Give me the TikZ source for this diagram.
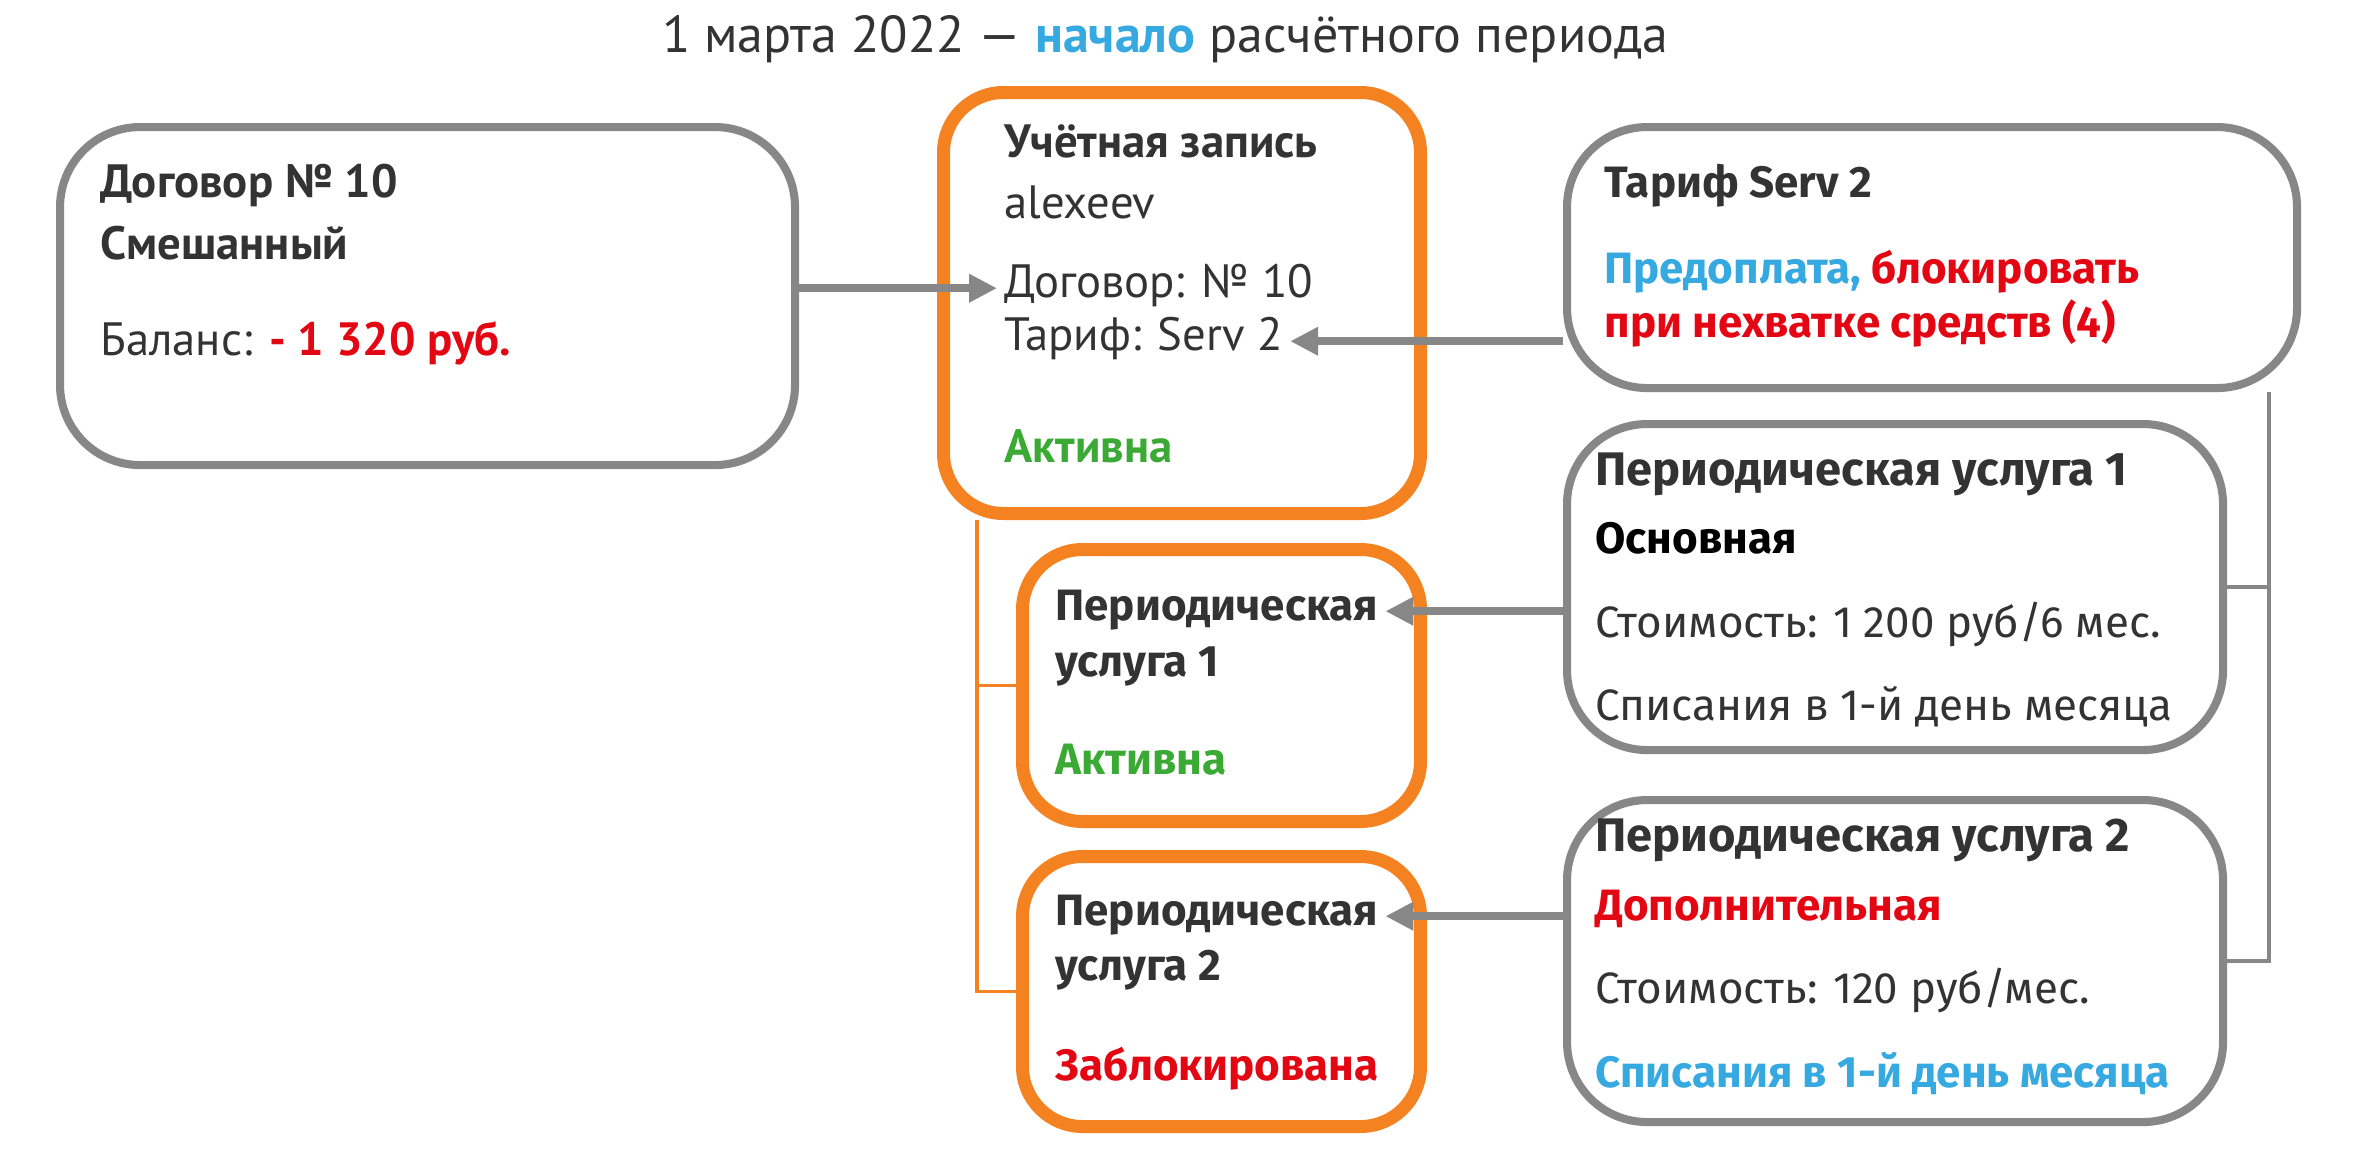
\documentclass[tikz,border=0pt]{standalone}
\usepackage{fontspec}
\setmainfont{PT Sans}
\newfontfamily\widefont{Fira Sans}
\usetikzlibrary{arrows.meta}

\definecolor{lgray}{HTML}{878787}
\definecolor{dgray}{HTML}{333333}
\definecolor{orng}{HTML}{F58220}
\definecolor{rd}{HTML}{E30613}
\definecolor{grn}{HTML}{3AAA35}
\definecolor{blu}{HTML}{36A9E1}

\begin{document}
\begin{tikzpicture}[line width=0.8pt,
  gbox/.style={draw=lgray,line width=2.3pt,rounded corners=0.8cm,anchor=north west,inner sep=0pt},
  obox/.style={draw=orng,line width=3.7pt,rounded corners=0.6cm,anchor=north west,inner sep=0pt},
  arr/.style={draw=lgray,line width=2.4pt,-{Triangle[length=0.28cm,width=0.27cm]},shorten >=0.6mm},
  txt/.style={anchor=base west,inner sep=0pt,text=dgray,font=\fontsize{13.3pt}{16pt}\selectfont},
  wtxt/.style={anchor=base west,inner sep=0pt,text=dgray,font=\widefont\fontsize{12.5pt}{15pt}\selectfont},
  whead/.style={wtxt,font=\widefont\fontsize{13.4pt}{15pt}\selectfont}]
\useasboundingbox (0,0) rectangle (23.54,-11.48);
% title
\node[txt,anchor=base,font=\fontsize{14.8pt}{18pt}\selectfont] (title) at (11.65,-0.52)
  {1 марта 2022 — \textbf{\color{blu}начало} расчётного периода};
% contract
\node[gbox,minimum width=7.35cm,minimum height=3.38cm] (dog) at (0.56,-1.23) {};
\node[txt] (dogname) at (0.99,-1.97) {\textbf{Договор № 10}};
\node[txt] (dogtype) at (0.99,-2.59) {\textbf{Смешанный}};
\node[txt] (dogbal) at (0.99,-3.55) {Баланс: \textbf{\color{rd}- 1 320 руб.}};
% account
\node[obox,minimum width=4.77cm,minimum height=4.21cm] (acc) at (9.37,-0.86) {};
\node[txt] (accname) at (10.03,-1.57) {\textbf{Учётная запись}};
\node[txt] (acclogin) at (10.03,-2.18) {alexeev};
\node[txt] (accdog) at (10.03,-2.97) {Договор: № 10};
\node[txt] (acctar) at (10.03,-3.50) {Тариф: Serv 2};
\node[txt,text=grn] (accstate) at (10.03,-4.62) {\textbf{Активна}};
% tariff
\node[gbox,minimum width=7.30cm,minimum height=2.61cm] (tar) at (15.63,-1.23) {};
\node[wtxt] (tarname) at (16.03,-1.97) {\textbf{Тариф Serv 2}};
\node[wtxt] (tarpay) at (16.03,-2.83) {\textbf{\color{blu}Предоплата, \color{rd}блокировать}};
\node[wtxt,text=rd] (tarlock) at (16.03,-3.37) {\textbf{при нехватке средств (4)}};
% periodic services of the tariff
\node[gbox,minimum width=6.56cm,minimum height=3.26cm] (p1r) at (15.63,-4.20) {};
\node[whead] (p1rname) at (15.94,-4.85) {\textbf{Периодическая услуга 1}};
\node[wtxt,text=black] (p1rtype) at (15.94,-5.53) {\textbf{Основная}};
\node[wtxt] (p1rcost) at (15.94,-6.37) {Стоимость: 1 200 руб/6 мес.};
\node[wtxt] (p1rday) at (15.94,-7.20) {Списания в 1-й день месяца};
\node[gbox,minimum width=6.56cm,minimum height=3.22cm] (p2r) at (15.63,-7.96) {};
\node[whead] (p2rname) at (15.94,-8.51) {\textbf{Периодическая услуга 2}};
\node[wtxt,text=rd] (p2rtype) at (15.94,-9.20) {\textbf{Дополнительная}};
\node[wtxt] (p2rcost) at (15.94,-10.03) {Стоимость: 120 руб/мес.};
\node[wtxt,text=blu] (p2rday) at (15.94,-10.87) {\textbf{Списания в 1-й день месяца}};
% periodic services of the account
\node[obox,minimum width=3.98cm,minimum height=2.72cm] (p1o) at (10.16,-5.43) {};
\node[wtxt] (p1oname) at (10.54,-6.20) {\textbf{Периодическая}};
\node[wtxt] (p1onum) at (10.54,-6.76) {\textbf{услуга 1}};
\node[wtxt,text=grn] (p1ostate) at (10.54,-7.74) {\textbf{Активна}};
\node[obox,minimum width=3.98cm,minimum height=2.70cm] (p2o) at (10.16,-8.50) {};
\node[wtxt] (p2oname) at (10.54,-9.25) {\textbf{Периодическая}};
\node[wtxt] (p2onum) at (10.54,-9.80) {\textbf{услуга 2}};
\node[wtxt,text=rd] (p2ostate) at (10.54,-10.80) {\textbf{Заблокирована}};
% trees
\coordinate (otop) at ([xshift=0.4cm]acc.south west);
\draw[orng,line width=0.9pt] (otop) |- (p1o.west);
\draw[orng,line width=0.9pt] (otop) |- (p2o.west);
\coordinate (gtop) at ([xshift=-0.32cm]tar.south east);
\draw[lgray,line width=1.1pt] (gtop) |- (p1r.east);
\draw[lgray,line width=1.1pt] (gtop) |- (p2r.east);
% links
\draw[arr] (dog.east |- accdog.mid west) -- (accdog.mid west);
\draw[arr] (tar.west |- acctar.mid east) -- (acctar.mid east);
\draw[arr] (p1r.west |- p1oname.mid east) -- (p1oname.mid east);
\draw[arr] (p2r.west |- p2oname.mid east) -- (p2oname.mid east);
\end{tikzpicture}
\end{document}
